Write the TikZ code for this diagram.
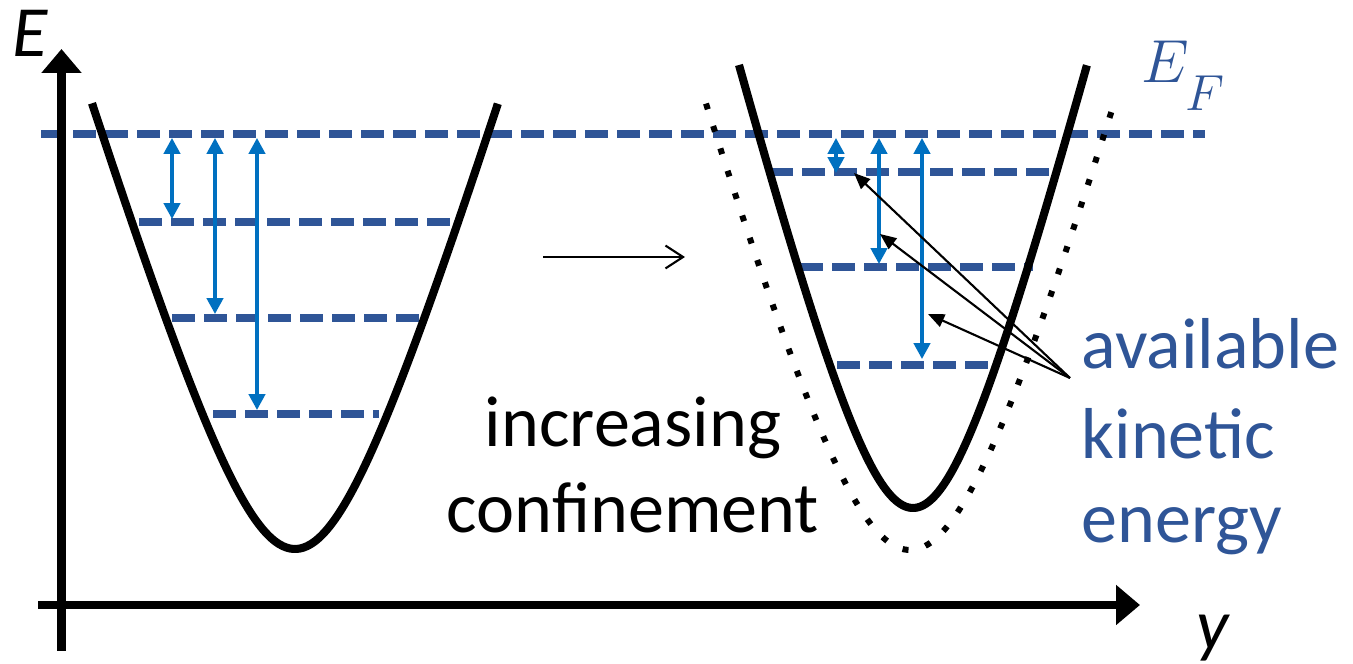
\documentclass[tikz,border=0pt]{standalone}
\usepackage{fontspec}
\setmainfont{Carlito}
\usetikzlibrary{arrows.meta}
\definecolor{lvl}{HTML}{2F5597}
\definecolor{arr}{HTML}{0070C0}
\begin{document}
\begin{tikzpicture}[x=0.01cm,y=-0.01cm,
  lvline/.style={draw=lvl, line width=2.1pt, dash pattern=on 6.54pt off 2.56pt},
  curve/.style={line width=2.3pt, line join=round},
  dotcurve/.style={line width=1.71pt, dash pattern=on 1.71pt off 4.98pt},
  gaparrow/.style={draw=arr, line width=1pt, {Triangle[length=4.5pt,width=4.6pt]}-{Triangle[length=4.5pt,width=4.6pt]}},
  pointer/.style={line width=0.6pt, -{Triangle[length=4.6pt,width=3.8pt]}},
  axisline/.style={line width=2.3pt, -{Triangle[length=6.8pt,width=11pt]}},
  txt/.style={font=\fontsize{20.5}{25}\selectfont, inner sep=0pt},
  btxt/.style={txt, text=lvl}
]
\useasboundingbox (0,0) rectangle (1353,664);

% level coordinates
\coordinate (EFa) at (41,134);  \coordinate (EFb) at (1205,134);
\coordinate (L1a) at (139,222); \coordinate (L1b) at (453,222);
\coordinate (L2a) at (172,318); \coordinate (L2b) at (420,318);
\coordinate (L3a) at (213,414); \coordinate (L3b) at (379,414);
\coordinate (R1a) at (770,172); \coordinate (R1b) at (1058,172);
\coordinate (R2a) at (800,267); \coordinate (R2b) at (1033,267);
\coordinate (R3a) at (837,365); \coordinate (R3b) at (990,365);

% dashed energy levels
\draw[lvline] (EFa) -- (EFb);
\draw[lvline] (L1a) -- (L1b);
\draw[lvline] (L2a) -- (L2b);
\draw[lvline] (L3a) -- (L3b);
\draw[lvline] (R1a) -- (R1b);
\draw[lvline] (R2a) -- (R2b);
\draw[lvline] (R3a) -- (R3b);

% potential curves
\draw[curve] plot[domain=-2.03:2.03, samples=120, smooth] ({295+100*\x},{549-327*(sqrt(\x*\x+0.6889)-0.83)});
\draw[curve] plot[domain=-1.74:1.74, samples=120, smooth] ({913+100*\x},{508-387*(sqrt(\x*\x+0.5625)-0.75)});
\draw[dotcurve] plot[domain=-2.04:2.03, samples=120, smooth] ({910+100*\x},{550-351*(sqrt(\x*\x+1)-1)});

% axes
\coordinate (O1) at (61.5,651); \coordinate (Etip) at (61.5,49);
\coordinate (O2) at (38,605);   \coordinate (ytip) at (1140,605);
\draw[axisline] (O1) -- (Etip);
\draw[axisline] (O2) -- (ytip);
\node[txt, font=\fontsize{20.5}{25}\selectfont\itshape, anchor=base] (Elab) at (30,57) {E};
\node[txt, font=\fontsize{20.5}{25}\selectfont\itshape, anchor=base] (ylab) at (1213,650) {y};

% blue gap arrows (left)
\coordinate (a1t) at (172,138); \coordinate (a1b) at (172,219);
\coordinate (a2t) at (215,138); \coordinate (a2b) at (215,314);
\coordinate (a3t) at (257,138); \coordinate (a3b) at (257,410);
\draw[gaparrow] (a1t) -- (a1b);
\draw[gaparrow] (a2t) -- (a2b);
\draw[gaparrow] (a3t) -- (a3b);
% blue gap arrows (right)
\coordinate (b1t) at (836,138); \coordinate (b1b) at (836,173);
\coordinate (b2t) at (879,138); \coordinate (b2b) at (879,264);
\coordinate (b3t) at (922,138); \coordinate (b3b) at (922,359);
\draw[gaparrow] (b1t) -- (b1b);
\draw[gaparrow] (b2t) -- (b2b);
\draw[gaparrow] (b3t) -- (b3b);

% middle arrow
\coordinate (m1) at (543,257); \coordinate (m2) at (685,257);
\draw[line width=0.6pt, -{Straight Barb[length=5pt,width=6.5pt]}] (m1) -- (m2);

% pointers
\coordinate (src) at (1070,378);
\coordinate (p1) at (854,173);
\coordinate (p2) at (880,234);
\coordinate (p3) at (928,314);
\draw[pointer] (src) -- (p1);
\draw[pointer] (src) -- (p2);
\draw[pointer] (src) -- (p3);

% texts
\node[txt, anchor=base] (inc) at (633,447) {increasing};
\node[txt, anchor=base] (conf) at (633,533) {confinement};
\node[btxt, anchor=base west] (av) at (1081,369) {available};
\node[btxt, anchor=base west] (kin) at (1081,459) {kinetic};
\node[btxt, anchor=base west] (en) at (1081,543) {energy};
\node[anchor=base west, inner sep=0pt, text=lvl] (EF) at (1141,83) {\fontsize{17}{20}\selectfont$E$\kern-1pt\raisebox{-7.7pt}{\fontsize{13.3}{16}\selectfont$F$}};
\end{tikzpicture}
\end{document}
